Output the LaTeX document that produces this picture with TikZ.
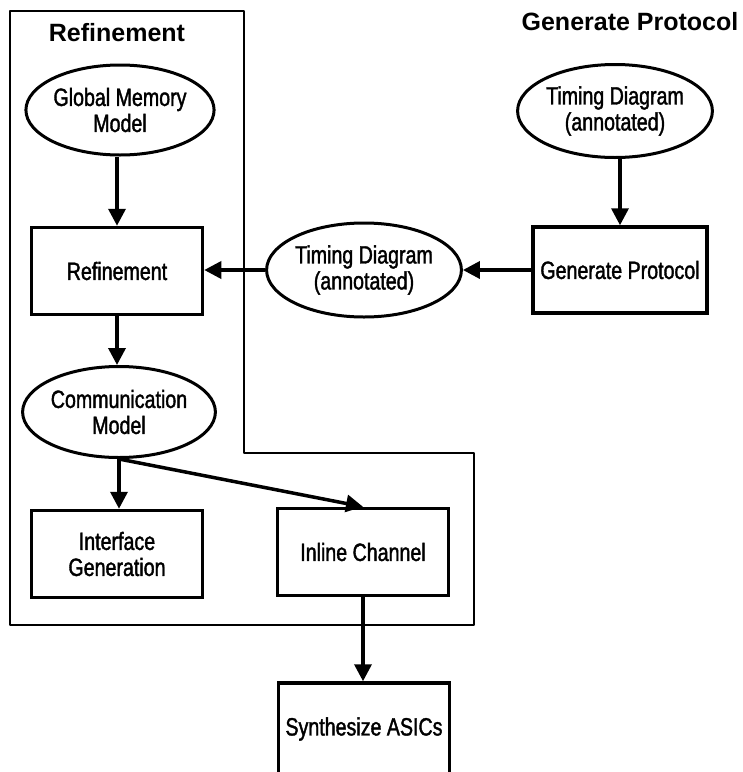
\documentclass[tikz,border=0pt]{standalone}
\usepackage{fontspec}
\setmainfont{Liberation Sans}[FakeStretch=0.785,FakeBold=1.5]
\newfontfamily\headfont{Liberation Sans}
\usetikzlibrary{shapes.geometric,arrows.meta}
\begin{document}
\begin{tikzpicture}[x=1pt,y=-1pt,
  every node/.style={font=\fontsize{25}{26}\selectfont, align=center, inner sep=0pt},
  proc/.style={draw, line width=3.5pt, rectangle, minimum width=171pt, minimum height=87pt},
  datum/.style={draw, line width=3pt, ellipse, minimum width=174pt, minimum height=90pt,
    execute at begin node={\rule{0pt}{26pt}}},
  flow/.style={line width=3.5pt, -{Triangle[length=17pt,width=17pt]}},
  heading/.style={font=\headfont\bfseries\fontsize{25}{28}\selectfont, anchor=base}]
\useasboundingbox (0,0) rectangle (743,772);
\clip (0,0) rectangle (743,772);

% refinement region outline
\draw[line width=2.5pt, line join=round] (10,11) -- (244,11) -- (244,453) -- (474,453)
  -- (474,625) -- (10,625) -- cycle;

\node[heading] (t1) at (117,41) {Refinement};
\node[heading] (t2) at (630,30) {Generate Protocol};

% refinement flow
\node[datum, minimum width=175pt] (gmm) at (120,110) {Global Memory\\Model};
\node[proc]  (ref) at (117,271) {Refinement};
\node[datum, minimum width=173pt, minimum height=91pt] (com) at (119,412) {Communication\\Model};
\node[proc]  (ifg) at (117,554) {Interface\\Generation};
\node[proc]  (inl) at (363,552) {Inline Channel};
\node[proc, minimum height=110pt] (asic) at (364,738) {};
\node (asict) at (364,729) {Synthesize ASICs};

% protocol generation
\node[datum, minimum width=176pt, minimum height=93pt] (tdr) at (615,111) {Timing Diagram\\(annotated)};
\node[proc, minimum width=174pt, minimum height=86pt] (gen) at (620,270) {Generate Protocol};
\node[datum, minimum width=178pt, minimum height=94pt] (tdm) at (364,270) {Timing Diagram\\(annotated)};

% connectors
\draw[flow] (ref.north |- gmm.south) -- (ref.north);
\draw[flow] (ref.south) -- (ref.south |- com.north);
\draw[flow] (com.south) -- (com.south |- ifg.north);
\draw[flow] (com.south) -- (inl.north);
\draw[flow] (inl.south) -- (inl.south |- asic.north);
\draw[flow] (tdr.south -| gen.north) -- (gen.north);
\draw[flow] (gen.west |- tdm.east) -- (tdm.east);
\draw[flow] (tdm.west) -- (ref.east |- tdm.west);
\end{tikzpicture}
\end{document}
